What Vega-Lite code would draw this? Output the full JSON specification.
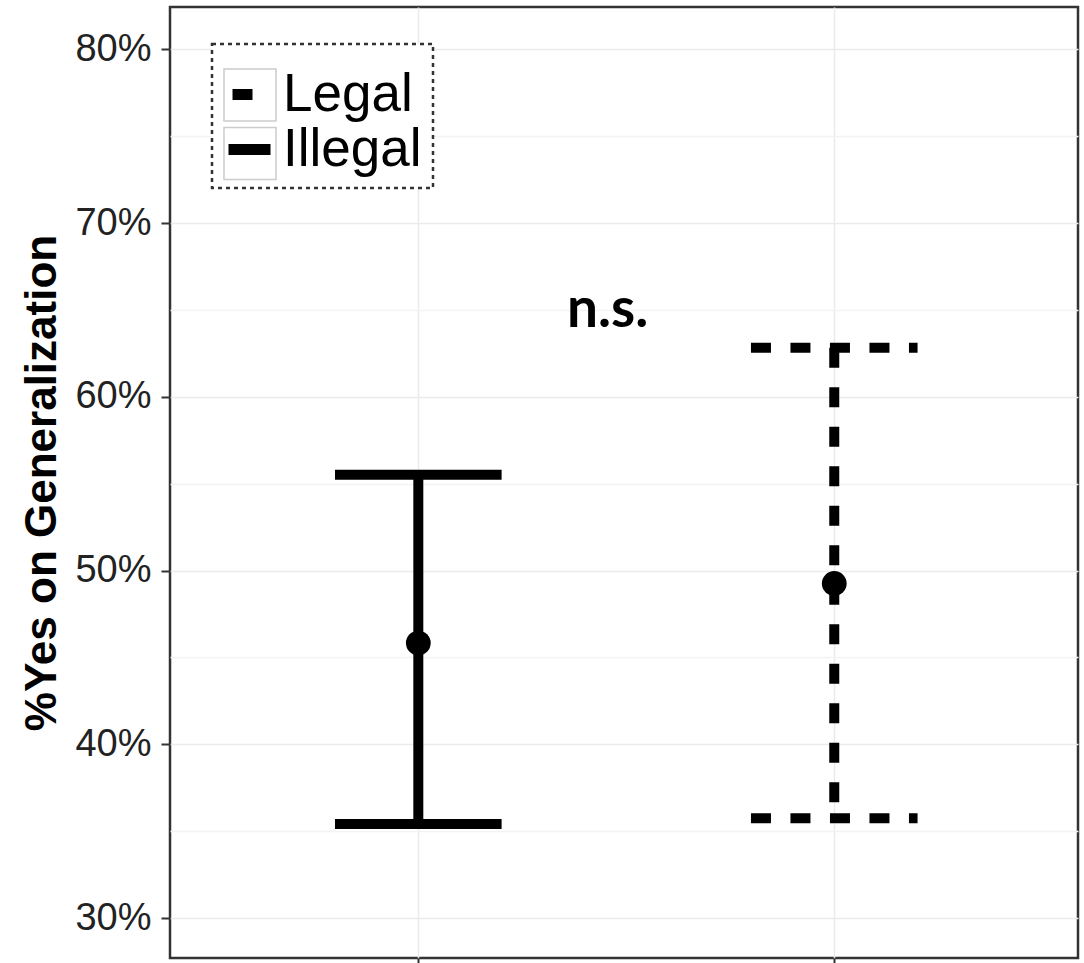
{
  "$schema": "https://vega.github.io/schema/vega-lite/v6.json",
  "width": 908,
  "height": 951,
  "autosize": {"type": "none"},
  "padding": {"left": 170, "top": 7, "right": 6, "bottom": 5},
  "background": "white",
  "config": {
    "view": {"stroke": "#333333", "strokeWidth": 2.5},
    "font": "Liberation Sans"
  },
  "datasets": {
    "ci": [
      {"condition": "Illegal", "pos": 1, "mean": 45.83, "lower": 35.41, "upper": 55.52},
      {"condition": "Legal", "pos": 2, "mean": 49.26, "lower": 35.75, "upper": 62.83}
    ],
    "annot": [{"label": "n.s.", "pos": 1.455, "value": 64.02}]
  },
  "data": {"name": "ci"},
  "encoding": {
    "x": {
      "field": "pos",
      "type": "quantitative",
      "scale": {"domain": [0.403, 2.586], "nice": false, "zero": false},
      "axis": {
        "title": null,
        "values": [1, 2],
        "labels": false,
        "ticks": true,
        "tickSize": 5,
        "tickWidth": 2,
        "tickColor": "#333333",
        "grid": true,
        "gridColor": "#ebebeb",
        "gridWidth": 1.5,
        "domain": false
      }
    }
  },
  "layer": [
    {
      "mark": {"type": "rule", "strokeWidth": 10, "color": "black", "strokeCap": "butt"},
      "encoding": {
        "y": {
          "field": "upper",
          "type": "quantitative",
          "scale": {"domain": [27.7, 82.44], "nice": false, "zero": false},
          "axis": {
            "title": "%Yes on Generalization",
            "values": [30, 35, 40, 45, 50, 55, 60, 65, 70, 75, 80],
            "labelExpr": "datum.value % 10 === 0 ? datum.value + '%' : ''",
            "labelOverlap": false,
            "labelFont": "Liberation Sans",
            "labelFontSize": 38,
            "labelColor": "#222222",
            "labelPadding": 10,
            "tickSize": 9,
            "tickWidth": 2,
            "tickColor": {"condition": {"test": "datum.value % 10 !== 0", "value": "transparent"}, "value": "#333333"},
            "grid": true,
            "gridColor": {"condition": {"test": "datum.value % 10 !== 0", "value": "#f3f3f3"}, "value": "#ebebeb"},
            "gridWidth": 1.5,
            "domain": false,
            "titleFont": "Liberation Sans",
            "titleFontSize": 44,
            "titleFontWeight": "bold",
            "titleColor": "black",
            "titlePadding": 10
          }
        },
        "y2": {"field": "lower"},
        "strokeDash": {
          "field": "condition",
          "type": "nominal",
          "scale": {"domain": ["Legal", "Illegal"], "range": [[20, 19.5], [1, 0]]},
          "legend": {
            "orient": "none",
            "legendX": 42,
            "legendY": 37,
            "title": " ",
            "titleFontSize": 10,
            "titlePadding": 3,
            "padding": 11,
            "symbolType": "stroke",
            "symbolSize": 1764,
            "symbolStrokeWidth": 11,
            "symbolStrokeColor": "black",
            "symbolDashOffset": 35.5,
            "labelFont": "Liberation Sans",
            "labelFontSize": 53,
            "labelColor": "black",
            "labelOffset": 7,
            "labelLimit": 400,
            "rowPadding": 1,
            "strokeColor": "#333333",
            "fillColor": "white",
            "encode": {"legend": {"update": {"strokeDash": {"value": [4, 4]}, "strokeWidth": {"value": 2.5}}}}
          }
        }
      }
    },
    {
      "mark": {"type": "rule", "strokeWidth": 10, "color": "black", "strokeCap": "butt", "xOffset": -83.3, "x2Offset": 83.3},
      "encoding": {
        "x2": {"field": "pos"},
        "y": {"field": "upper", "type": "quantitative"},
        "strokeDash": {"field": "condition", "type": "nominal"}
      }
    },
    {
      "mark": {"type": "rule", "strokeWidth": 10, "color": "black", "strokeCap": "butt", "xOffset": -83.3, "x2Offset": 83.3},
      "encoding": {
        "x2": {"field": "pos"},
        "y": {"field": "lower", "type": "quantitative"},
        "strokeDash": {"field": "condition", "type": "nominal"}
      }
    },
    {
      "mark": {"type": "point", "filled": true, "size": 615, "color": "black", "opacity": 1},
      "encoding": {
        "y": {"field": "mean", "type": "quantitative"}
      }
    },
    {
      "mark": {"type": "point", "filled": false, "opacity": 0, "size": 2704},
      "encoding": {
        "y": {"field": "mean", "type": "quantitative"},
        "shape": {
          "field": "condition",
          "type": "nominal",
          "sort": "descending",
          "scale": {"range": ["square", "square"]},
          "legend": {
            "orient": "none",
            "legendX": 42,
            "legendY": 37,
            "title": " ",
            "titleFontSize": 10,
            "titlePadding": 3,
            "padding": 11,
            "symbolSize": 2704,
            "symbolStrokeWidth": 1.5,
            "symbolStrokeColor": "#cccccc",
            "symbolFillColor": "transparent",
            "symbolOpacity": 1,
            "labelExpr": "''",
            "labelFontSize": 53,
            "labelOffset": 7,
            "rowPadding": 0.5,
            "fillColor": "transparent",
            "strokeColor": "transparent"
          }
        }
      }
    },
    {
      "data": {"name": "annot"},
      "mark": {"type": "text", "font": "Lato", "fontWeight": "bold", "fontSize": 55, "baseline": "alphabetic", "align": "center", "color": "black"},
      "encoding": {
        "y": {"field": "value", "type": "quantitative"},
        "text": {"field": "label"}
      }
    }
  ]
}
